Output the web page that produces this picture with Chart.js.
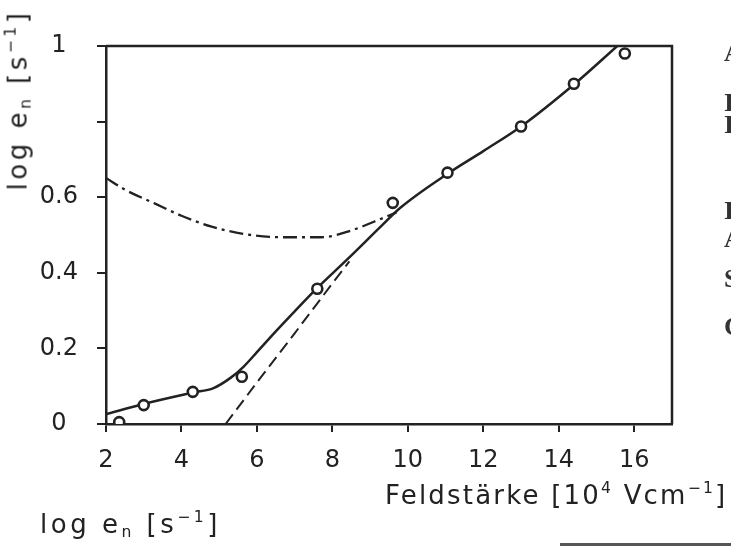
<!DOCTYPE html>
<html>
<head>
<meta charset="utf-8">
<script src="https://cdn.jsdelivr.net/npm/chart.js@4"></script>
<style>
  html, body { margin: 0; padding: 0; background: #fff; }
  #wrap { position: relative; width: 731px; height: 549px; overflow: hidden; }
  #myChart { position: absolute; left: 0; top: 0; }
  .txt { position: absolute; font-family: "DejaVu Sans", sans-serif; color: #222; white-space: nowrap; }
  .txt sub { font-size: 60%; vertical-align: -0.25em; }
  .txt sup { font-size: 60%; vertical-align: 0.7em; }
  #ytitle { left: 18px; top: 100px; font-size: 26px; letter-spacing: 3.5px; transform: translate(-50%, -50%) rotate(-90deg); }
  #xtitle { left: 385px; top: 479px; font-size: 26px; letter-spacing: 2.2px; }
  #unten { left: 40px; top: 508px; font-size: 26px; letter-spacing: 3.5px; }
  .rand { position: absolute; left: 724px; font-family: "Liberation Serif", serif; font-size: 26px; font-weight: bold; color: #333; }
  #strich { position: absolute; left: 560px; top: 543px; width: 171px; height: 3px; background: #555; }
</style>
</head>
<body>
<div id="wrap">
  <canvas id="myChart" width="731" height="549"></canvas>
  <div class="txt" id="ytitle">log e<sub>n</sub> [s<sup>−1</sup>]</div>
  <div class="txt" id="xtitle">Feldstärke [10<sup>4</sup> Vcm<sup>−1</sup>]</div>
  <div class="txt" id="unten">log e<sub>n</sub> [s<sup>−1</sup>]</div>
  <div class="rand" style="top:38px">A</div>
  <div class="rand" style="top:88px">I</div>
  <div class="rand" style="top:110px">I</div>
  <div class="rand" style="top:196px">I</div>
  <div class="rand" style="top:224px">A</div>
  <div class="rand" style="top:264px">S</div>
  <div class="rand" style="top:312px">C</div>
  <div id="strich"></div>
</div>
<script>
// Messpunkte (Kreise)
let messX = [2.35, 3.0, 4.3, 5.6, 7.6, 9.6, 11.05, 13.0, 14.4, 15.75];
let messY = [0.005, 0.05, 0.085, 0.125, 0.358, 0.585, 0.665, 0.787, 0.9, 0.98];

// ausgezogene Kurve
let kurveX = [2, 3, 4.3, 4.85, 5.3, 5.65, 6.0, 6.5, 7, 7.6, 8.4, 9.3, 9.8, 11.05, 12, 13, 14.4, 15.55];
let kurveY = [0.026, 0.053, 0.083, 0.095, 0.122, 0.152, 0.19, 0.245, 0.298, 0.36, 0.436, 0.524, 0.572, 0.662, 0.722, 0.787, 0.898, 1.0];

// gestrichelte Gerade
let gestrX = [5.17, 6, 7, 8, 8.45];
let gestrY = [0, 0.11, 0.24, 0.372, 0.43];

// strichpunktierte Kurve
let strPktX = [2, 2.5, 3.3, 4, 4.8, 5.7, 6.75, 7.7, 8.5, 9.1, 9.7];
let strPktY = [0.651, 0.62, 0.583, 0.551, 0.522, 0.502, 0.494, 0.494, 0.512, 0.535, 0.56];

let xTicks = [2, 4, 6, 8, 10, 12, 14, 16];
let yTicks = [0, 0.2, 0.4, 0.6, 0.8, 1];
let yLabels = ["0", "0.2", "0.4", "0.6", "", "1"];

const ink = "#222";

function punkte(xs, ys) {
  return xs.map((x, i) => ({ x: x, y: ys[i] }));
}

// Rahmen oben und rechts
const rahmen = {
  id: "rahmen",
  afterDatasetsDraw(chart) {
    const a = chart.chartArea;
    const ctx = chart.ctx;
    ctx.save();
    ctx.strokeStyle = ink;
    ctx.lineWidth = 2.5;
    ctx.beginPath();
    ctx.moveTo(a.left, a.top);
    ctx.lineTo(a.right, a.top);
    ctx.lineTo(a.right, a.bottom);
    ctx.stroke();
    ctx.restore();
  },
};

const data = {
  datasets: [
    {
      type: "scatter",
      data: punkte(messX, messY),
      pointRadius: 5,
      pointBorderWidth: 2.6,
      pointBorderColor: ink,
      pointBackgroundColor: "#fff",
      order: 0,
    },
    {
      type: "line",
      data: punkte(kurveX, kurveY),
      borderColor: ink,
      borderWidth: 2.5,
      pointRadius: 0,
      cubicInterpolationMode: "monotone",
      fill: false,
      order: 1,
    },
    {
      type: "line",
      data: punkte(gestrX, gestrY),
      borderColor: ink,
      borderWidth: 2,
      borderDash: [12, 6],
      pointRadius: 0,
      tension: 0,
      fill: false,
      order: 1,
    },
    {
      type: "line",
      data: punkte(strPktX, strPktY),
      borderColor: ink,
      borderWidth: 2.3,
      borderDash: [14, 5, 3, 5],
      pointRadius: 0,
      cubicInterpolationMode: "monotone",
      fill: false,
      order: 1,
    },
  ],
};

const config = {
  type: "scatter",
  data,
  plugins: [rahmen],
  options: {
    responsive: false,
    animation: false,
    layout: { padding: { top: 46, right: 59, left: 0, bottom: 0 } },
    plugins: { legend: { display: false }, tooltip: { enabled: false } },
    scales: {
      x: {
        type: "linear",
        min: 2,
        max: 17,
        afterFit: (s) => { s.height = 125; },
        afterBuildTicks: (s) => { s.ticks = xTicks.map((v) => ({ value: v })); },
        grid: { drawOnChartArea: false, drawTicks: true, tickLength: 8, color: ink, lineWidth: 2 },
        border: { display: true, color: ink, width: 2.5 },
        ticks: {
          color: ink,
          padding: 14,
          font: { family: "DejaVu Sans", size: 24 },
          callback: (v) => String(v),
        },
      },
      y: {
        type: "linear",
        min: 0,
        max: 1,
        afterFit: (s) => { s.width = 106; },
        afterBuildTicks: (s) => { s.ticks = yTicks.map((v) => ({ value: v })); },
        grid: { drawOnChartArea: false, drawTicks: true, tickLength: 9, color: ink, lineWidth: 2 },
        border: { display: true, color: ink, width: 2.5 },
        ticks: {
          color: ink,
          padding: 19,
          crossAlign: "center",
          font: { family: "DejaVu Sans", size: 24 },
          callback: (v, i) => yLabels[i],
        },
      },
    },
  },
};

var myChart = new Chart(document.getElementById("myChart"), config);
</script>
</body>
</html>
